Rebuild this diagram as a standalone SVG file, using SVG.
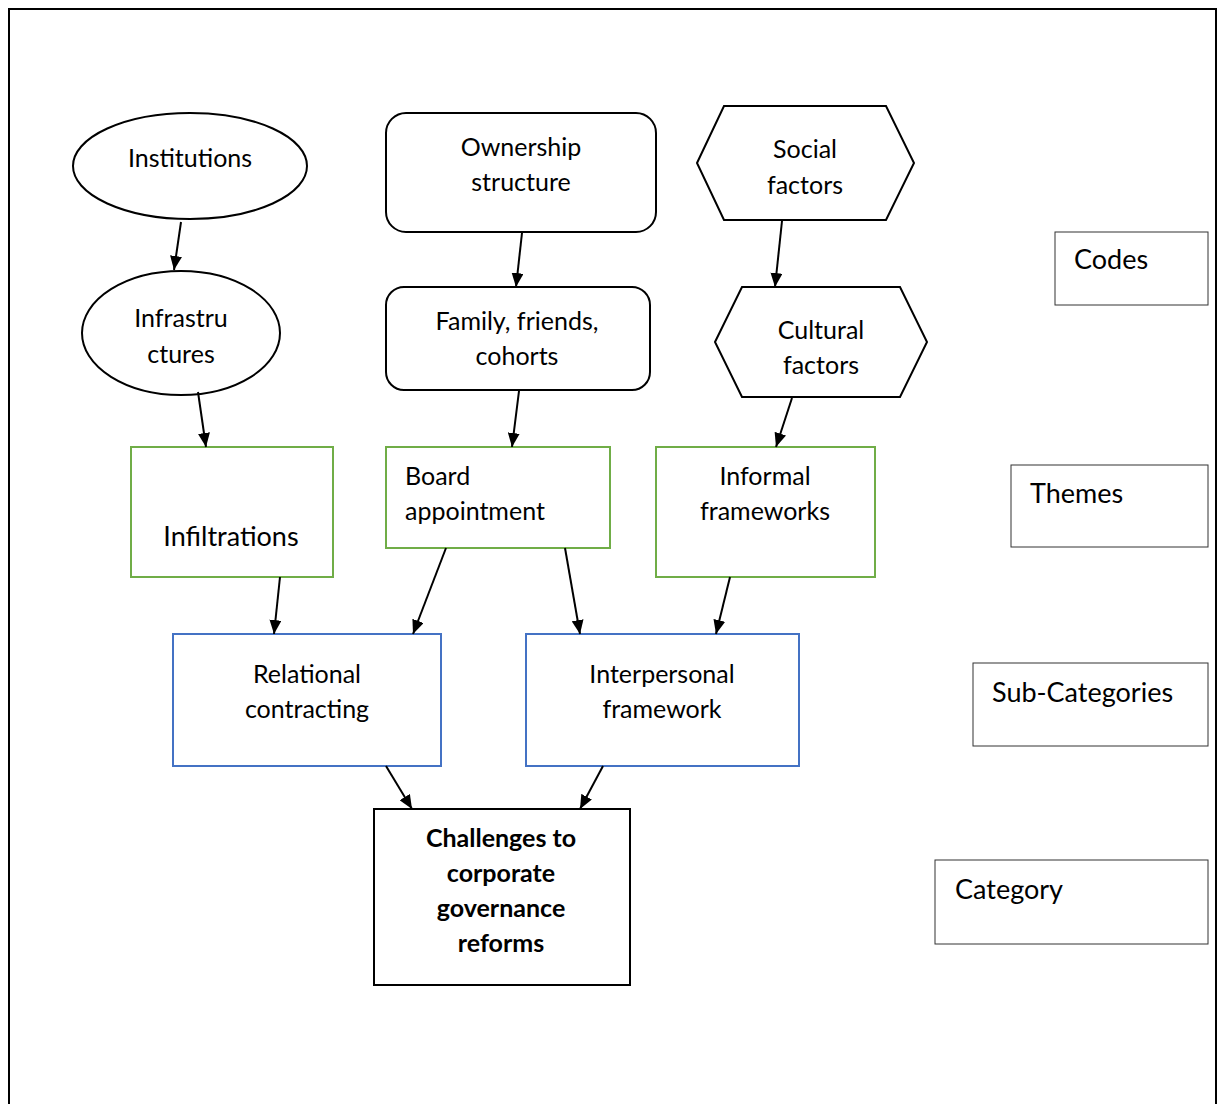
<svg xmlns="http://www.w3.org/2000/svg" width="1222" height="1104" viewBox="0 0 1222 1104">
<style>
text{font-family:Lato,"Open Sans","Liberation Sans",sans-serif;font-size:25px;fill:#000;text-anchor:middle}
.s{fill:#fff;stroke:#000;stroke-width:2}
.g{fill:#fff;stroke:#70ad47;stroke-width:2}
.b{fill:#fff;stroke:#4472c4;stroke-width:2}
.l{fill:#fff;stroke:#333;stroke-width:1}
.lg{font-size:27px;text-anchor:start}
.c line{stroke:#000;stroke-width:2;marker-end:url(#ah)}
</style>
<defs>
<marker id="ah" viewBox="0 0 14 12" refX="14" refY="6" markerWidth="14" markerHeight="12" markerUnits="userSpaceOnUse" orient="auto">
<path d="M0,0 L14,6 L0,12 Z" fill="#000"/>
</marker>
</defs>
<rect x="0" y="0" width="1222" height="1104" fill="#fff"/>
<rect x="9" y="9" width="1207" height="1110" fill="none" stroke="#000" stroke-width="2"/>

<g id="institutions"><ellipse class="s" cx="190" cy="166" rx="117" ry="53"/><text x="190" y="167">Institutions</text></g>
<g id="infrastructures"><ellipse class="s" cx="181" cy="333" rx="99" ry="62"/><text x="181" y="327">Infrastru</text><text x="181" y="363">ctures</text></g>
<g id="ownership"><rect class="s" x="386" y="113" width="270" height="119" rx="20"/><text x="521" y="156">Ownership</text><text x="521" y="191">structure</text></g>
<g id="family"><rect class="s" x="386" y="287" width="264" height="103" rx="18"/><text x="517" y="330">Family, friends,</text><text x="517" y="365">cohorts</text></g>
<g id="social"><polygon class="s" points="697,163 724,106 886,106 914,163 886,220 724,220"/><text x="805" y="158">Social</text><text x="805" y="194">factors</text></g>
<g id="cultural"><polygon class="s" points="715,342 742,287 900,287 927,342 900,397 742,397"/><text x="821" y="339">Cultural</text><text x="821" y="374">factors</text></g>
<g id="infiltrations"><rect class="g" x="131" y="447" width="202" height="130"/><text x="231" y="546" style="font-size:27px">Infiltrations</text></g>
<g id="board"><rect class="g" x="386" y="447" width="224" height="101"/><text x="405" y="485" style="text-anchor:start">Board</text><text x="405" y="520" style="text-anchor:start">appointment</text></g>
<g id="informal"><rect class="g" x="656" y="447" width="219" height="130"/><text x="765" y="485">Informal</text><text x="765" y="520">frameworks</text></g>
<g id="relational"><rect class="b" x="173" y="634" width="268" height="132"/><text x="307" y="683">Relational</text><text x="307" y="718">contracting</text></g>
<g id="interpersonal"><rect class="b" x="526" y="634" width="273" height="132"/><text x="662" y="683">Interpersonal</text><text x="662" y="718">framework</text></g>
<g id="challenges"><rect class="s" x="374" y="809" width="256" height="176"/><g style="font-weight:bold"><text x="501" y="847">Challenges to</text><text x="501" y="882">corporate</text><text x="501" y="917">governance</text><text x="501" y="952">reforms</text></g></g>

<g id="legend-codes"><rect class="l" x="1055" y="232" width="153" height="73"/><text class="lg" x="1074" y="269">Codes</text></g>
<g id="legend-themes"><rect class="l" x="1011" y="465" width="197" height="82"/><text class="lg" x="1030" y="503">Themes</text></g>
<g id="legend-subcategories"><rect class="l" x="973" y="663" width="235" height="83"/><text class="lg" x="992" y="702">Sub-Categories</text></g>
<g id="legend-category"><rect class="l" x="935" y="860" width="273" height="84"/><text class="lg" x="955" y="899">Category</text></g>

<g id="connectors" class="c">
<line x1="181" y1="222" x2="174" y2="270"/>
<line x1="198" y1="392" x2="206" y2="447"/>
<line x1="522" y1="233" x2="516" y2="287"/>
<line x1="519" y1="391" x2="512" y2="447"/>
<line x1="782" y1="221" x2="775" y2="287"/>
<line x1="792" y1="398" x2="776" y2="447"/>
<line x1="280" y1="577" x2="274" y2="634"/>
<line x1="446" y1="548" x2="413" y2="634"/>
<line x1="565" y1="548" x2="580" y2="634"/>
<line x1="730" y1="577" x2="716" y2="634"/>
<line x1="386" y1="766" x2="412" y2="809"/>
<line x1="603" y1="766" x2="580" y2="809"/>
</g>
</svg>
